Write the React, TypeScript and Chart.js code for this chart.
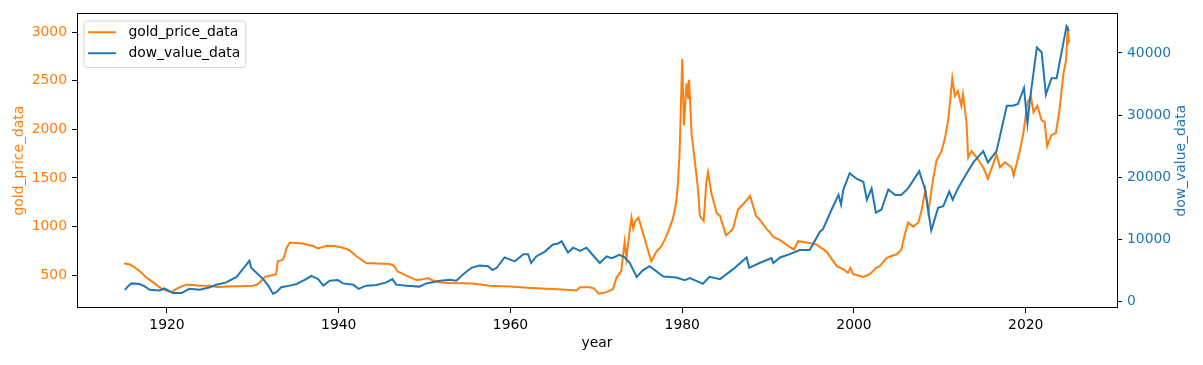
import { useEffect, useRef } from "react";
import { Chart, registerables } from "chart.js";

Chart.register(...registerables);

const goldYears = [
  1915.0, 1915.6, 1916.0, 1916.8, 1917.6, 1918.4, 1919.15, 1919.8, 1920.5, 1921.1,
  1921.7, 1922.3, 1923.0, 1923.8, 1925.0, 1925.75, 1927.0, 1928.1, 1929.0, 1930.0,
  1930.5, 1930.8, 1931.4, 1932.0, 1932.7, 1932.9, 1933.2, 1933.5, 1933.7, 1933.9,
  1934.3, 1935.0, 1935.8, 1937.0, 1937.6, 1938.6, 1939.5, 1940.5, 1941.2, 1942.1,
  1943.2, 1944.5, 1945.9, 1946.4, 1946.9, 1948.0, 1949.05, 1949.6, 1950.4, 1951.0,
  1951.8, 1953.0, 1955.6, 1957.6, 1960.0, 1962.0, 1964.2, 1966.0, 1967.7, 1968.1,
  1969.2, 1969.7, 1970.3, 1971.2, 1971.95, 1972.35, 1972.9, 1973.3, 1973.5, 1973.8,
  1974.1, 1974.3, 1974.5, 1974.9, 1975.4, 1976.0, 1976.4, 1977.0, 1977.6, 1978.2,
  1978.9, 1979.3, 1979.5, 1979.7, 1980.0, 1980.2, 1980.5, 1980.7, 1980.8, 1981.1,
  1981.5, 1981.85, 1982.05, 1982.5, 1982.8, 1983.0, 1983.4, 1984.0, 1984.4, 1985.1,
  1985.9, 1986.5, 1987.3, 1987.9, 1988.6, 1989.0, 1989.8, 1990.2, 1990.6, 1991.4,
  1992.2, 1993.0, 1993.5, 1994.5, 1995.6, 1996.8, 1998.0, 1998.8, 1999.3, 1999.6,
  1999.9, 2001.1, 2001.85, 2002.6, 2003.0, 2003.8, 2004.2, 2005.0, 2005.5, 2005.9,
  2006.3, 2006.9, 2007.5, 2007.9, 2008.3, 2008.65, 2009.2, 2009.6, 2010.2, 2010.6,
  2011.0, 2011.45, 2011.75, 2012.1, 2012.5, 2012.7, 2013.1, 2013.3, 2013.7, 2014.3,
  2015.05, 2015.6, 2016.2, 2016.6, 2017.0, 2017.6, 2018.35, 2018.6, 2019.3, 2019.7,
  2020.2, 2020.6, 2020.9, 2021.35, 2021.85, 2022.2, 2022.5, 2023.0, 2023.5, 2023.9,
  2024.4, 2024.7, 2024.9, 2025.0, 2025.1,
];
const goldPrices = [
  620, 612, 595, 543, 476, 426, 376, 345, 326, 360,
  385, 403, 400, 393, 393, 380, 383, 386, 388, 393,
  405, 426, 483, 495, 510, 643, 650, 660, 700, 776,
  836, 832, 826, 800, 776, 803, 800, 783, 760, 693,
  626, 620, 616, 600, 536, 490, 450, 455, 470, 445,
  426, 420, 416, 393, 383, 372, 360, 352, 343, 376,
  376, 365, 310, 326, 360, 476, 543, 843, 676, 900,
  1093, 980, 1050, 1093, 943, 760, 643, 743, 800, 910,
  1076, 1250, 1443, 1776, 2726, 2043, 2476, 2310, 2510, 1943,
  1650, 1376, 1110, 1060, 1450, 1560, 1343, 1143, 1110, 910,
  976, 1176, 1250, 1316, 1110, 1076, 976, 943, 893, 860,
  810, 765, 850, 836, 816, 743, 593, 560, 526, 576,
  510, 483, 510, 576, 593, 676, 693, 715, 760, 910,
  1043, 1000, 1043, 1176, 1376, 1143, 1480, 1676, 1776, 1910,
  2110, 2526, 2343, 2393, 2243, 2360, 2076, 1710, 1776, 1710,
  1610, 1493, 1643, 1743, 1610, 1660, 1610, 1526, 1776, 1943,
  2276, 2343, 2176, 2243, 2093, 2076, 1826, 1943, 1960, 2176,
  2576, 2710, 3060, 2900, 2920,
];

const dowYears = [
  1915.1, 1915.5, 1915.85, 1916.8, 1917.3, 1918.0, 1919.15, 1919.7, 1920.7, 1921.7,
  1922.6, 1923.8, 1925.0, 1925.75, 1926.9, 1928.1, 1928.8, 1929.25, 1929.6, 1929.8,
  1930.2, 1930.6, 1931.2, 1931.8, 1932.35, 1932.75, 1933.3, 1934.3, 1935.1, 1936.2,
  1936.8, 1937.6, 1938.2, 1938.95, 1939.9, 1940.5, 1941.7, 1942.3, 1943.2, 1944.4,
  1945.55, 1946.25, 1946.7, 1947.9, 1949.4, 1950.2, 1951.8, 1952.9, 1953.7, 1954.5,
  1955.45, 1956.4, 1957.4, 1957.9, 1958.4, 1959.3, 1960.5, 1961.5, 1962.05, 1962.4,
  1963.0, 1964.0, 1964.95, 1965.55, 1965.95, 1966.7, 1967.3, 1968.1, 1968.85, 1969.4,
  1970.4, 1971.2, 1971.8, 1972.7, 1973.3, 1973.9, 1974.7, 1975.4, 1976.2, 1977.8,
  1979.3, 1980.3, 1980.9, 1981.5, 1982.4, 1983.2, 1984.4, 1985.9, 1987.5, 1987.8,
  1989.0, 1990.4, 1990.6, 1991.4, 1992.3, 1993.7, 1994.85, 1996.0, 1996.4, 1997.4,
  1998.2, 1998.5, 1998.75, 1999.5, 2000.3, 2001.1, 2001.5, 2002.05, 2002.55, 2003.2,
  2004.0, 2004.8, 2005.5, 2006.3, 2007.6, 2008.3, 2009.0, 2009.8, 2010.4, 2011.1,
  2011.5, 2012.1, 2013.1, 2013.9, 2015.05, 2015.6, 2016.6, 2017.8, 2018.5, 2019.1,
  2019.8, 2020.2, 2020.5, 2021.3, 2021.85, 2022.35, 2023.0, 2023.6, 2024.75, 2025.05,
];
const dowValues = [
  1878, 2500, 2911, 2817, 2500, 1878, 1768, 2128, 1346, 1346,
  2034, 1878, 2285, 2707, 3067, 3959, 5164, 5947, 6573, 5415,
  4898, 4382, 3599, 2551, 1252, 1502, 2285, 2551, 2817, 3599,
  4116, 3599, 2551, 3333, 3443, 2911, 2707, 2034, 2551, 2660,
  3067, 3599, 2707, 2551, 2394, 2911, 3333, 3490, 3333, 4382,
  5415, 5791, 5681, 5055, 5415, 7090, 6463, 7606, 7606, 6197,
  7246, 8029, 9171, 9328, 9703, 7872, 8655, 8138, 8655, 7762,
  6197, 7246, 6980, 7512, 7090, 6197, 3959, 5008, 5681, 4006,
  3850, 3443, 3756, 3400, 2850, 3959, 3599, 5164, 7090, 5415,
  6197, 6980, 6197, 7090, 7512, 8294, 8294, 11158, 11675, 14805,
  17152, 15587, 17935, 20658, 19766, 19249, 16370, 18201, 14288, 14805,
  18045, 17152, 17152, 18201, 20971, 17935, 11425, 15071, 15337, 17685,
  16370, 18201, 20549, 22380, 24195, 22380, 24195, 31504, 31504, 31770,
  34366, 28640, 32552, 40895, 40111, 33335, 35932, 35932, 44290, 43507,
];

const xTicks = [1920, 1940, 1960, 1980, 2000, 2020];
const goldTicks = [500, 1000, 1500, 2000, 2500, 3000];
const dowTicks = [0, 10000, 20000, 30000, 40000];
const xRange = [1909.52, 2030.63];
const goldRange = [163, 3193];
const dowRange = [-1048, 46370];

const xTitle = "year";
const goldTitle = "gold_price_data";
const dowTitle = "dow_value_data";

const ORANGE = "#ff7f0e";
const BLUE = "#1f77b4";
const FONT_FAMILY = "'DejaVu Sans', sans-serif";
const FONT_SIZE = 13.9;

const framePlugin = {
  id: "mplFrame",
  afterDatasetsDraw(chart: any) {
    const { ctx, chartArea: a } = chart;
    ctx.save();
    ctx.strokeStyle = "#000";
    ctx.lineWidth = 1;
    const l = Math.floor(a.left) + 0.5;
    const t = Math.floor(a.top) + 0.5;
    const r = Math.floor(a.right) + 0.5;
    const b = Math.floor(a.bottom) + 0.5;
    ctx.strokeRect(l, t, r - l, b - t);
    ctx.restore();
  },
};

const rightTitlePlugin = {
  id: "rightTitle",
  afterDraw(chart: any) {
    const { ctx, chartArea: a } = chart;
    const s = chart.scales.yDow;
    ctx.save();
    ctx.font = `${FONT_SIZE}px ${FONT_FAMILY}`;
    ctx.fillStyle = BLUE;
    ctx.textAlign = "center";
    ctx.textBaseline = "middle";
    ctx.translate(s.right - 21.3, (a.top + a.bottom) / 2);
    ctx.rotate(-Math.PI / 2);
    ctx.fillText(dowTitle, 0, 0);
    ctx.restore();
  },
};

const legendPlugin = {
  id: "mplLegend",
  afterDraw(chart: any) {
    const { ctx, chartArea: a } = chart;
    const em = FONT_SIZE;
    const datasets = chart.data.datasets;
    ctx.save();
    ctx.font = `${em}px ${FONT_FAMILY}`;
    let maxW = 0;
    datasets.forEach((d: any) => {
      maxW = Math.max(maxW, ctx.measureText(d.label).width);
    });
    const x0 = a.left + 0.5 * em;
    const y0 = a.top + 0.55 * em;
    const w = (0.4 + 2 + 0.8 + 0.4) * em + maxW;
    const h = 3.35 * em;
    const rad = 3;
    ctx.beginPath();
    ctx.moveTo(x0 + rad, y0);
    ctx.lineTo(x0 + w - rad, y0);
    ctx.arcTo(x0 + w, y0, x0 + w, y0 + rad, rad);
    ctx.lineTo(x0 + w, y0 + h - rad);
    ctx.arcTo(x0 + w, y0 + h, x0 + w - rad, y0 + h, rad);
    ctx.lineTo(x0 + rad, y0 + h);
    ctx.arcTo(x0, y0 + h, x0, y0 + h - rad, rad);
    ctx.lineTo(x0, y0 + rad);
    ctx.arcTo(x0, y0, x0 + rad, y0, rad);
    ctx.closePath();
    ctx.fillStyle = "rgba(255,255,255,0.8)";
    ctx.fill();
    ctx.strokeStyle = "rgba(204,204,204,0.8)";
    ctx.lineWidth = 1;
    ctx.stroke();
    datasets.forEach((d: any, i: number) => {
      const cy = y0 + 0.81 * em + i * 1.51 * em;
      const hx = x0 + 0.3 * em;
      ctx.strokeStyle = d.borderColor;
      ctx.lineWidth = 2;
      ctx.beginPath();
      ctx.moveTo(hx, cy);
      ctx.lineTo(hx + 2 * em, cy);
      ctx.stroke();
      ctx.fillStyle = "#000";
      ctx.textAlign = "left";
      ctx.textBaseline = "middle";
      ctx.fillText(d.label, x0 + 3.2 * em, cy);
    });
    ctx.restore();
  },
};

export default function App() {
  const canvasRef = useRef<HTMLCanvasElement | null>(null);

  useEffect(() => {
    document.body.style.margin = "0";
    const canvas = canvasRef.current;
    if (!canvas) return;
    const font = { family: FONT_FAMILY, size: FONT_SIZE };
    const tickGrid = {
      drawOnChartArea: false,
      drawTicks: true,
      tickLength: 5,
      color: "#000",
      lineWidth: 1,
    };
    const chart = new Chart(canvas, {
      type: "line",
      data: {
        datasets: [
          {
            label: "gold_price_data",
            data: goldYears.map((x, i) => ({ x, y: goldPrices[i] })),
            borderColor: ORANGE,
            backgroundColor: ORANGE,
            borderWidth: 2,
            pointRadius: 0,
            tension: 0,
            yAxisID: "yGold",
            order: 1,
          },
          {
            label: "dow_value_data",
            data: dowYears.map((x, i) => ({ x, y: dowValues[i] })),
            borderColor: BLUE,
            backgroundColor: BLUE,
            borderWidth: 2,
            pointRadius: 0,
            tension: 0,
            yAxisID: "yDow",
            order: 0,
          },
        ],
      },
      options: {
        responsive: false,
        animation: false,
        devicePixelRatio: 1,
        layout: { padding: { top: 5, left: 0, right: 0, bottom: 0 } },
        plugins: {
          legend: { display: false },
          tooltip: { enabled: false },
        },
        events: [],
        scales: {
          x: {
            type: "linear",
            position: "bottom",
            min: xRange[0],
            max: xRange[1],
            afterBuildTicks: (s: any) => {
              s.ticks = xTicks.map((v) => ({ value: v }));
            },
            afterFit: (s: any) => {
              s.height = 57;
            },
            grid: tickGrid,
            border: { display: false },
            ticks: {
              color: "#000",
              font,
              padding: 4,
              maxRotation: 0,
              autoSkip: false,
              callback: (v: any) => String(v),
            },
            title: {
              display: true,
              text: xTitle,
              color: "#000",
              font,
              padding: { top: 0, bottom: 13.4 },
            },
          },
          yGold: {
            type: "linear",
            position: "left",
            min: goldRange[0],
            max: goldRange[1],
            afterBuildTicks: (s: any) => {
              s.ticks = goldTicks.map((v) => ({ value: v }));
            },
            afterFit: (s: any) => {
              s.width = 77;
            },
            grid: tickGrid,
            border: { display: false },
            ticks: {
              color: ORANGE,
              font,
              padding: 5,
              autoSkip: false,
              callback: (v: any) => String(v),
            },
            title: {
              display: true,
              text: goldTitle,
              color: ORANGE,
              font,
              padding: { top: 10.7, bottom: 0 },
            },
          },
          yDow: {
            type: "linear",
            position: "right",
            min: dowRange[0],
            max: dowRange[1],
            afterBuildTicks: (s: any) => {
              s.ticks = dowTicks.map((v) => ({ value: v }));
            },
            afterFit: (s: any) => {
              s.width = 86;
            },
            grid: tickGrid,
            border: { display: false },
            ticks: {
              color: BLUE,
              font,
              padding: 5,
              autoSkip: false,
              callback: (v: any) => String(v),
            },
            title: { display: false, text: dowTitle },
          },
        },
      },
      plugins: [framePlugin, rightTitlePlugin, legendPlugin],
    } as any);
    return () => chart.destroy();
  }, []);

  return (
    <div style={{ position: "absolute", left: 0, top: 0, width: 1203, height: 365, background: "#fff" }}>
      <canvas ref={canvasRef} width={1203} height={365} style={{ display: "block" }} />
    </div>
  );
}
